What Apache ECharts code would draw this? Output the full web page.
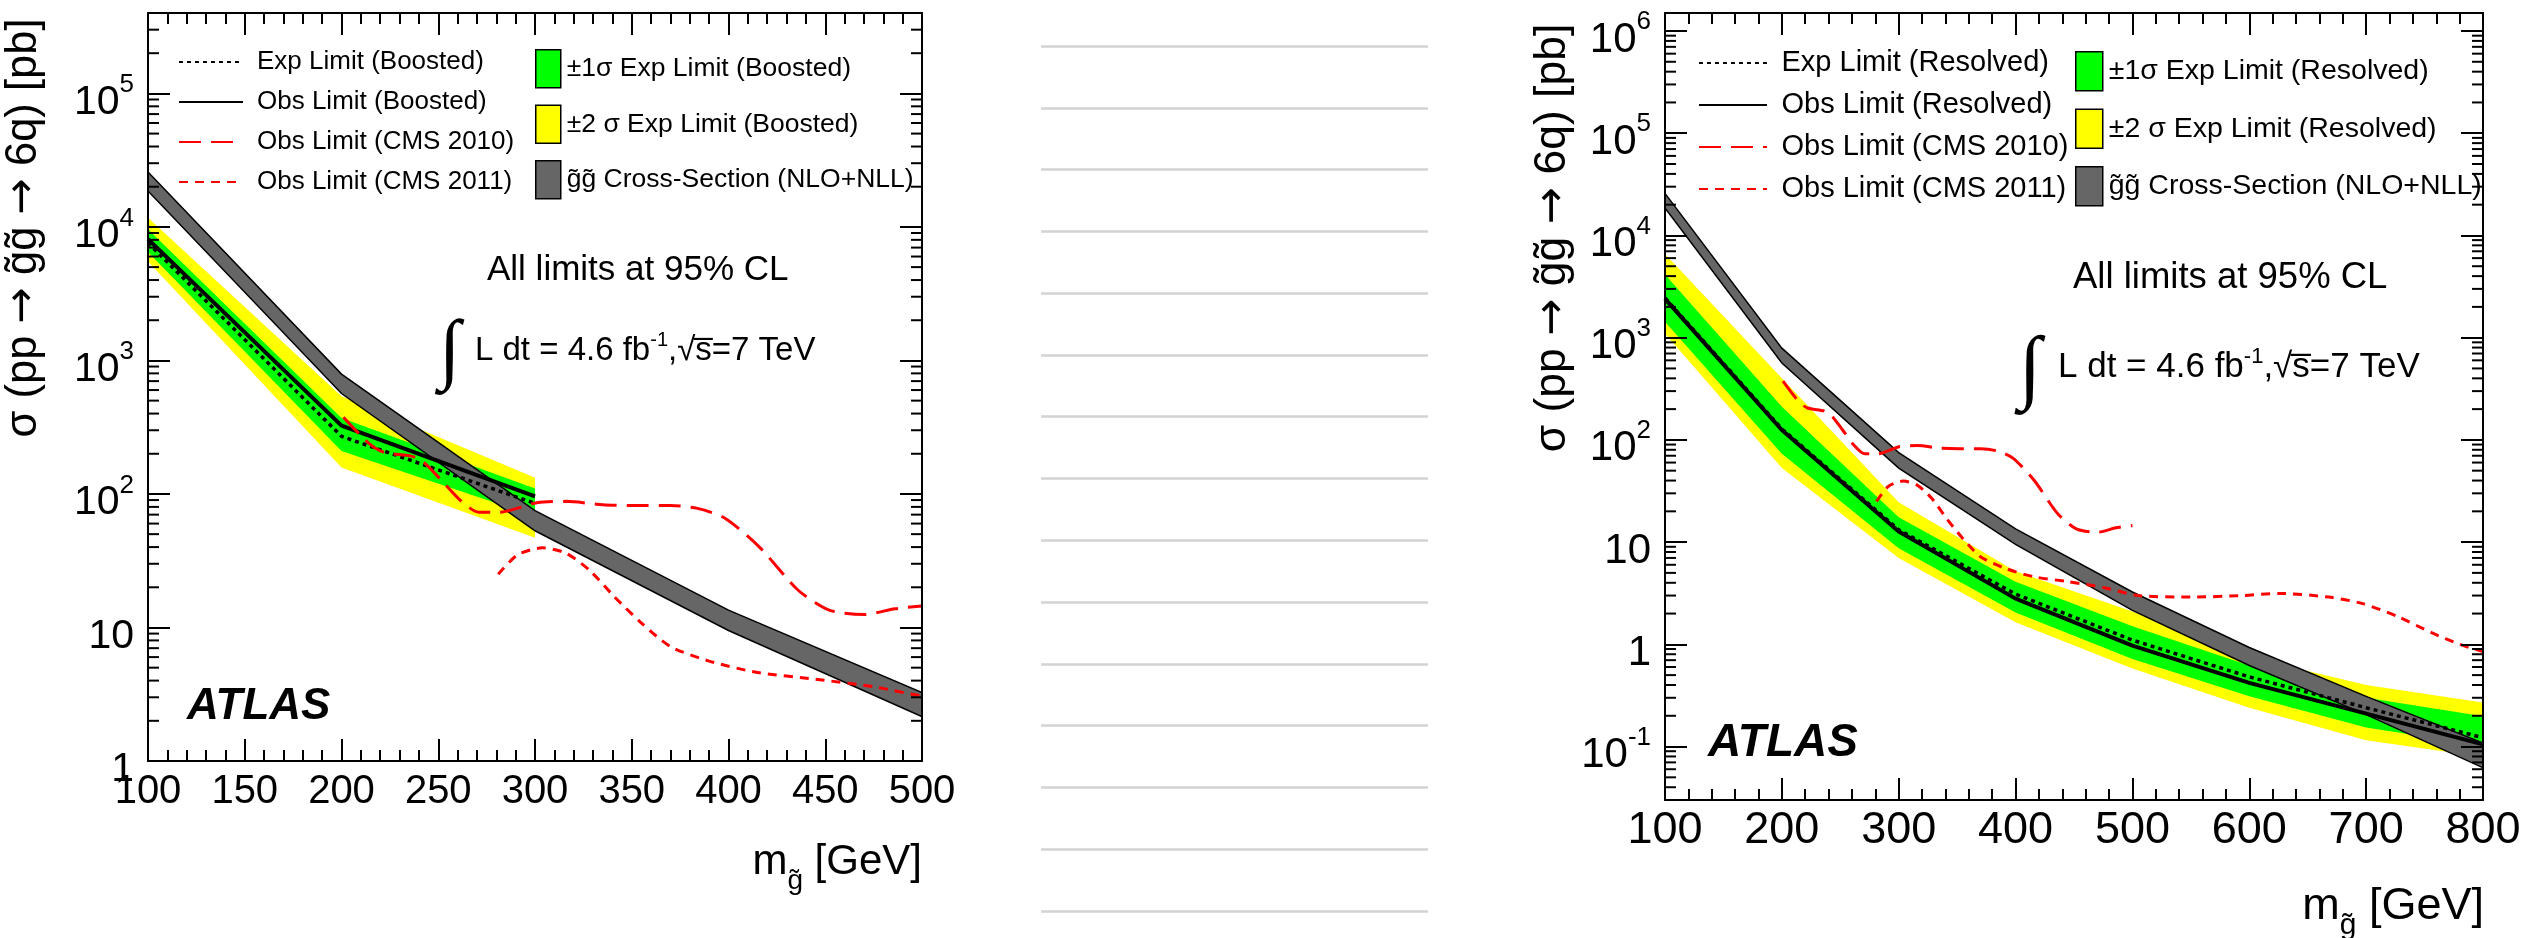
<!DOCTYPE html>
<html>
<head>
<meta charset="utf-8">
<script src="https://cdn.jsdelivr.net/npm/echarts@6/dist/echarts.min.js"></script>
<style>
html, body { margin: 0; padding: 0; background: #fff; }
#chart { width: 2525px; height: 938px; }
</style>
</head>
<body>
<div id="chart"></div>
<script>
// ---- Gluino mass points (GeV) ----
const massBoosted = [100, 200, 300];
const massResolved = [100, 200, 300, 400, 500, 600, 700, 800];
const massXsec = [100, 200, 300, 400, 500, 600, 700, 800];

// ---- Boosted analysis: 95% CL limits (pb) ----
const boostedObs = [8100, 325, 96];
const boostedExp = [7600, 270, 85];
const boostedOneSigmaLo = [6500, 210, 68];
const boostedOneSigmaHi = [9600, 370, 110];
const boostedTwoSigmaLo = [5500, 158, 47];
const boostedTwoSigmaHi = [11700, 540, 132];

// ---- Resolved analysis: 95% CL limits (pb) ----
const resolvedObs = [2400, 125, 12.7, 2.8, 0.97, 0.42, 0.21, 0.105];
const resolvedExp = [2450, 128, 13.2, 3.1, 1.1, 0.48, 0.24, 0.122];
const resolvedOneSigmaLo = [1430, 73, 8.7, 2.05, 0.72, 0.31, 0.154, 0.102];
const resolvedOneSigmaHi = [4150, 211, 17.5, 4.1, 1.5, 0.62, 0.30, 0.198];
const resolvedTwoSigmaLo = [1100, 53, 7.0, 1.64, 0.58, 0.24, 0.115, 0.079];
const resolvedTwoSigmaHi = [6600, 400, 24.5, 5.2, 2.1, 0.75, 0.40, 0.27];

// ---- NLO+NLL gluino-pair cross-section band (pb) ----
const xsecLo = [18600, 565, 53, 9.5, 2.15, 0.62, 0.205, 0.062];
const xsecHi = [25800, 790, 75, 13.5, 3.25, 0.93, 0.31, 0.108];

// ---- CMS observed limits (pb) ----
const cms2010Mass = [201, 214, 222, 236, 242, 252, 262, 271, 282, 292, 301, 316, 335, 352, 370, 384, 398, 416, 436, 452, 470, 486, 500];
const cms2010Limit = [375, 240, 205, 192, 175, 125, 88, 73, 73, 79, 86, 88, 83, 82, 82, 78, 66, 40, 19, 13.5, 12.5, 13.8, 14.5];
const cms2011Mass = [281, 291, 304, 316, 328, 341, 355, 370, 390, 415, 445, 475, 505, 550, 595, 625, 668, 697, 727, 756, 780, 800];
const cms2011Limit = [25, 35, 39.5, 36, 27, 17, 10.8, 7.2, 5.6, 4.6, 4.1, 3.6, 3.0, 2.9, 3.0, 3.15, 2.9, 2.5, 1.87, 1.3, 1.0, 0.85];

// ---- Axis ranges and tick steps ----
const boostedMassRange = [100, 500];
const boostedMassStep = 50;
const boostedSigmaRange = [1, 4e5];
const resolvedMassRange = [100, 800];
const resolvedMassStep = 100;
const resolvedSigmaRange = [0.03, 1.5e6];
const minorMultipliers = [2, 3, 4, 5, 6, 7, 8, 9];

// ---- Texts ----
const xsecName = 'g\u0303g\u0303 Cross-Section (NLO+NLL)';
const namesBoosted = {
  exp: 'Exp Limit (Boosted)', obs: 'Obs Limit (Boosted)',
  one: '±1σ Exp Limit (Boosted)', two: '±2 σ Exp Limit (Boosted)'
};
const namesResolved = {
  exp: 'Exp Limit (Resolved)', obs: 'Obs Limit (Resolved)',
  one: '±1σ Exp Limit (Resolved)', two: '±2 σ Exp Limit (Resolved)'
};
const cms2010Name = 'Obs Limit (CMS 2010)';
const cms2011Name = 'Obs Limit (CMS 2011)';

const FONT = 'Liberation Sans, Arial, Helvetica, sans-serif';
const ARROW_FONT = 'DejaVu Sans, sans-serif';
const BLACK = '#000000';
const GREEN = '#00ff00';
const YELLOW = '#ffff00';
const GREY = '#666666';
const RED = '#ff0000';

function pairs(xs, ys) { return xs.map((x, i) => [x, ys[i]]); }

// Points of a curve that lie inside a mass range
function within(range, xs, ...cols) {
  const idx = xs.map((x, i) => i).filter(i => xs[i] >= range[0] && xs[i] <= range[1]);
  return [idx.map(i => xs[i])].concat(cols.map(c => idx.map(i => c[i])));
}

// Filled band between two curves, drawn through the cartesian axes
function bandSeries(name, panel, xs, lo, hi, color, stroke, z) {
  return {
    type: 'custom', name: name, coordinateSystem: 'cartesian2d',
    xAxisIndex: panel * 2, yAxisIndex: panel * 2, z: z, silent: true, clip: true,
    itemStyle: { color: color, borderColor: stroke || color },
    data: xs.map((x, i) => [x, lo[i], hi[i]]),
    encode: { x: 0, y: [1, 2] },
    renderItem: function (params, api) {
      if (params.dataIndex !== 0) return null;
      const pts = [];
      for (let i = 0; i < xs.length; i++) pts.push(api.coord([xs[i], hi[i]]));
      for (let i = xs.length - 1; i >= 0; i--) pts.push(api.coord([xs[i], lo[i]]));
      return {
        type: 'polygon', shape: { points: pts },
        style: { fill: color, stroke: stroke || null, lineWidth: stroke ? 1.5 : 0 }
      };
    }
  };
}

function lineSeries(name, panel, xs, ys, style, z) {
  return {
    type: 'line', name: name, xAxisIndex: panel * 2, yAxisIndex: panel * 2,
    data: pairs(xs, ys), symbol: 'none', showSymbol: false, smooth: style.smooth || false,
    lineStyle: { color: style.color, width: style.width, type: style.type || 'solid', cap: 'butt' },
    z: z, silent: true, clip: true
  };
}

// Logarithmic minor ticks (2..9 per decade) on both vertical frame edges
function minorLogTicks(panel, xRange, yRange) {
  const vals = [];
  const n0 = Math.floor(Math.log10(yRange[0])), n1 = Math.ceil(Math.log10(yRange[1]));
  for (let n = n0; n <= n1; n++) {
    minorMultipliers.forEach(k => {
      const v = k * Math.pow(10, n);
      if (v > yRange[0] && v < yRange[1]) vals.push([xRange[0], v, xRange[1]]);
    });
  }
  return {
    type: 'custom', coordinateSystem: 'cartesian2d', silent: true,
    xAxisIndex: panel * 2, yAxisIndex: panel * 2, z: 20,
    data: vals, encode: { x: [0, 2], y: 1 },
    renderItem: function (params, api) {
      const a = api.coord([api.value(0), api.value(1)]);
      const b = api.coord([api.value(2), api.value(1)]);
      return {
        type: 'group', children: [
          { type: 'line', shape: { x1: a[0], y1: a[1], x2: a[0] + 11, y2: a[1] }, style: { stroke: BLACK, lineWidth: 2 } },
          { type: 'line', shape: { x1: b[0], y1: b[1], x2: b[0] - 11, y2: b[1] }, style: { stroke: BLACK, lineWidth: 2 } }
        ]
      };
    }
  };
}

function powerLabel(v) {
  const n = Math.round(Math.log10(v));
  if (Math.abs(v / Math.pow(10, n) - 1) > 1e-6) return '';
  if (n === 0) return '{b|1}';
  if (n === 1) return '{b|10}';
  return '{b|10}{e|' + n + '}';
}

function massAxes(grid, range, step, labelSize, margin) {
  const common = {
    type: 'value', gridIndex: grid, min: range[0], max: range[1], interval: step, z: 10,
    axisLine: { show: true, onZero: false, lineStyle: { color: BLACK, width: 2 } },
    axisTick: { show: true, inside: true, length: 22, lineStyle: { color: BLACK, width: 2 } },
    minorTick: { show: true, splitNumber: 5, length: 11, lineStyle: { color: BLACK, width: 2 } },
    splitLine: { show: false }, minorSplitLine: { show: false }
  };
  return [
    Object.assign({}, common, {
      position: 'bottom',
      axisLabel: { show: true, margin: margin, color: BLACK, fontFamily: FONT, fontSize: labelSize, lineHeight: labelSize }
    }),
    Object.assign({}, common, { position: 'top', axisLabel: { show: false } })
  ];
}

function sigmaAxes(grid, range, labelSize) {
  const common = {
    type: 'log', logBase: 10, gridIndex: grid, min: range[0], max: range[1], splitNumber: 10, z: 10,
    axisLine: { show: true, onZero: false, lineStyle: { color: BLACK, width: 2 } },
    axisTick: { show: true, inside: true, length: 22, lineStyle: { color: BLACK, width: 2 } },
    minorTick: { show: false }, splitLine: { show: false }
  };
  return [
    Object.assign({}, common, {
      position: 'left',
      axisLabel: {
        show: true, margin: 14, formatter: powerLabel, padding: [8, 0, 0, 0],
        rich: {
          b: { fontFamily: FONT, fontSize: labelSize, lineHeight: labelSize + 10, verticalAlign: 'bottom', color: BLACK },
          e: { fontFamily: FONT, fontSize: Math.round(labelSize * 0.63), lineHeight: 22, verticalAlign: 'top', color: BLACK }
        }
      }
    }),
    Object.assign({}, common, { position: 'right', axisLabel: { show: false } })
  ];
}

const bx = massAxes(0, boostedMassRange, boostedMassStep, 40, 11);
const by = sigmaAxes(0, boostedSigmaRange, 41);
const rx = massAxes(1, resolvedMassRange, resolvedMassStep, 45, 8);
const ry = sigmaAxes(1, resolvedSigmaRange, 42);

// Ruled lines of the central panel
const ruleCount = 14;
const mx = { type: 'value', gridIndex: 2, min: 0, max: 1, show: false };
const my = {
  type: 'value', gridIndex: 2, min: 0, max: ruleCount, interval: 1,
  axisLine: { show: false }, axisTick: { show: false }, axisLabel: { show: false },
  splitLine: { show: true, lineStyle: { color: '#d3d3d3', width: 2.5 } }
};

const expStyle = { color: BLACK, width: 3.5, type: [4, 4] };
const obsStyle = { color: BLACK, width: 4 };
const cms2010Style = { color: RED, width: 3, type: [22, 10], smooth: 0.25 };
const cms2011Style = { color: RED, width: 3, type: [9, 7], smooth: 0.25 };

const [xsMassB, xsLoB, xsHiB] = within(boostedMassRange, massXsec, xsecLo, xsecHi);

const series = [
  // Boosted panel
  bandSeries(namesBoosted.two, 0, massBoosted, boostedTwoSigmaLo, boostedTwoSigmaHi, YELLOW, null, 1),
  bandSeries(namesBoosted.one, 0, massBoosted, boostedOneSigmaLo, boostedOneSigmaHi, GREEN, null, 2),
  bandSeries(xsecName, 0, xsMassB, xsLoB, xsHiB, GREY, BLACK, 3),
  lineSeries(namesBoosted.exp, 0, massBoosted, boostedExp, expStyle, 5),
  lineSeries(namesBoosted.obs, 0, massBoosted, boostedObs, obsStyle, 6),
  lineSeries(cms2010Name, 0, cms2010Mass, cms2010Limit, cms2010Style, 7),
  lineSeries(cms2011Name, 0, cms2011Mass, cms2011Limit, cms2011Style, 7),
  minorLogTicks(0, boostedMassRange, boostedSigmaRange),
  // Resolved panel
  bandSeries(namesResolved.two, 1, massResolved, resolvedTwoSigmaLo, resolvedTwoSigmaHi, YELLOW, null, 1),
  bandSeries(namesResolved.one, 1, massResolved, resolvedOneSigmaLo, resolvedOneSigmaHi, GREEN, null, 2),
  bandSeries(xsecName, 1, massXsec, xsecLo, xsecHi, GREY, BLACK, 3),
  lineSeries(namesResolved.exp, 1, massResolved, resolvedExp, expStyle, 5),
  lineSeries(namesResolved.obs, 1, massResolved, resolvedObs, obsStyle, 6),
  lineSeries(cms2010Name, 1, cms2010Mass, cms2010Limit, cms2010Style, 7),
  lineSeries(cms2011Name, 1, cms2011Mass, cms2011Limit, cms2011Style, 7),
  minorLogTicks(1, resolvedMassRange, resolvedSigmaRange)
];

function lineLegend(names, left, top, w, gap, size, pad) {
  return {
    orient: 'vertical', left: left, top: top, padding: 0, selectedMode: false,
    itemWidth: w, itemHeight: 30, itemGap: gap, data: names,
    itemStyle: { opacity: 0 },
    textStyle: { color: BLACK, fontFamily: FONT, fontSize: size, lineHeight: 30, padding: [0, 0, 0, pad] }
  };
}
function boxLegend(names, left, top, w, h, gap, size) {
  return {
    orient: 'vertical', left: left, top: top, padding: 0, selectedMode: false, icon: 'rect',
    itemWidth: w, itemHeight: h, itemGap: gap, data: names,
    itemStyle: { borderColor: BLACK, borderWidth: 1.5 },
    textStyle: { color: BLACK, fontFamily: FONT, fontSize: size, padding: [0, 0, 0, 1] }
  };
}

function txt(x, y, text, size, extra) {
  return {
    type: 'text', x: x, y: y, z: 30, silent: true,
    style: Object.assign({ text: text, fill: BLACK, fontFamily: FONT, fontSize: size, align: 'left', verticalAlign: 'middle' }, extra || {})
  };
}
function yTitle(x, y, size) {
  const el = txt(x, y, '{t|σ (pp }{a|→}{t| g\u0303g\u0303 }{a|→}{t| 6q) [pb]}', size, {
    align: 'center',
    rich: {
      t: { fontFamily: FONT, fontSize: size, fill: BLACK },
      a: { fontFamily: ARROW_FONT, fontSize: size, fill: BLACK }
    }
  });
  el.rotation = Math.PI / 2;
  return el;
}
function lumiText(x, y, size) {
  return txt(x, y, '{a|L dt = 4.6 fb}{s|-1}{a|,√s\u0305=7 TeV}', size, {
    rich: {
      a: { fontFamily: FONT, fontSize: size, lineHeight: size + 4, verticalAlign: 'bottom', fill: BLACK },
      s: { fontFamily: FONT, fontSize: Math.round(size * 0.62), lineHeight: 20, verticalAlign: 'top', fill: BLACK }
    }
  });
}
function massName(xRight, yTop, size) {
  return txt(xRight, yTop, '{m|m}{g|g\u0303}{m| [GeV]}', size, {
    align: 'right', verticalAlign: 'top',
    rich: {
      m: { fontFamily: FONT, fontSize: size, lineHeight: size + 2, verticalAlign: 'top', fill: BLACK },
      g: { fontFamily: FONT, fontSize: Math.round(size * 0.66), lineHeight: size + 12, verticalAlign: 'bottom', fill: BLACK }
    }
  });
}

const graphic = [
  // axis titles
  yTitle(24, 228, 43.5),
  yTitle(1553, 238, 44.5),
  massName(922, 841, 42),
  massName(2484, 884, 45),
  // boosted panel annotations
  txt(487, 270, 'All limits at 95% CL', 35),
  txt(450, 354, '∫', 78, { align: 'center', fontFamily: 'Liberation Serif, serif' }),
  lumiText(475, 349, 33),
  txt(187, 707, 'ATLAS', 44, { fontWeight: 'bold', fontStyle: 'italic' }),
  // resolved panel annotations
  txt(2073, 278, 'All limits at 95% CL', 36.5),
  txt(2030, 371, '∫', 82, { align: 'center', fontFamily: 'Liberation Serif, serif' }),
  lumiText(2058, 365, 35),
  txt(1708, 743, 'ATLAS', 46, { fontWeight: 'bold', fontStyle: 'italic' })
];

const option = {
  animation: false,
  backgroundColor: '#ffffff',
  grid: [
    { left: 148, top: 13, width: 774, height: 748, containLabel: false, outerBoundsMode: 'none' },
    { left: 1665, top: 13, width: 818, height: 787, containLabel: false, outerBoundsMode: 'none' },
    { left: 1041, top: 46, width: 387, height: 865, containLabel: false, outerBoundsMode: 'none' }
  ],
  xAxis: [bx[0], bx[1], rx[0], rx[1], mx],
  yAxis: [by[0], by[1], ry[0], ry[1], my],
  legend: [
    lineLegend([namesBoosted.exp, namesBoosted.obs, cms2010Name, cms2011Name], 178, 47, 64, 10, 26, 9),
    boxLegend([namesBoosted.one, namesBoosted.two, xsecName], 535, 49, 25, 38, 16, 26.5),
    lineLegend([namesResolved.exp, namesResolved.obs, cms2010Name, cms2011Name], 1698, 48, 68, 12, 29, 9.5),
    boxLegend([namesResolved.one, namesResolved.two, xsecName], 2075, 51, 27, 39, 17, 28.5)
  ],
  graphic: graphic,
  series: series
};

const chart = echarts.init(document.getElementById('chart'), null, { renderer: 'canvas' });
chart.setOption(option);
</script>
</body>
</html>
